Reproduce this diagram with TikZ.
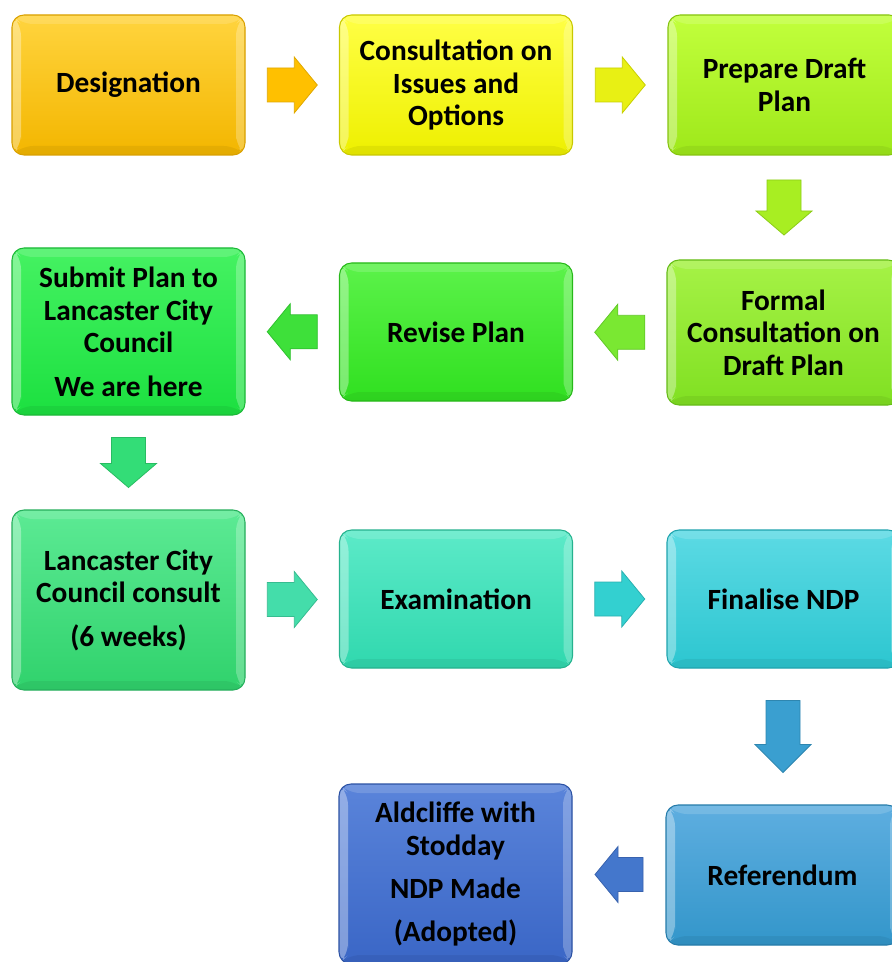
\documentclass[tikz,border=0pt]{standalone}
\usepackage{fontspec}
\setmainfont{Carlito}
\usetikzlibrary{calc}
\definecolor{desT}{HTML}{FFD43E}\definecolor{desB}{HTML}{F3B600}\definecolor{desD}{HTML}{D9A000}
\definecolor{conT}{HTML}{FFFF45}\definecolor{conB}{HTML}{EEF000}\definecolor{conD}{HTML}{C8C800}
\definecolor{preT}{HTML}{C2FF3C}\definecolor{preB}{HTML}{9EE81A}\definecolor{preD}{HTML}{86C410}
\definecolor{subT}{HTML}{45F262}\definecolor{subB}{HTML}{1CE040}\definecolor{subD}{HTML}{1CB838}
\definecolor{revT}{HTML}{5CF24A}\definecolor{revB}{HTML}{30E020}\definecolor{revD}{HTML}{28B81A}
\definecolor{frmT}{HTML}{A6F246}\definecolor{frmB}{HTML}{80E022}\definecolor{frmD}{HTML}{66BC18}
\definecolor{lccT}{HTML}{5CEA94}\definecolor{lccB}{HTML}{30D26C}\definecolor{lccD}{HTML}{26AE5C}
\definecolor{exaT}{HTML}{5CEAC8}\definecolor{exaB}{HTML}{30D8AE}\definecolor{exaD}{HTML}{26B28E}
\definecolor{finT}{HTML}{5CDAE4}\definecolor{finB}{HTML}{2CC6D0}\definecolor{finD}{HTML}{20A4AE}
\definecolor{refT}{HTML}{5EAEE0}\definecolor{refB}{HTML}{3396CA}\definecolor{refD}{HTML}{267CAA}
\definecolor{aldT}{HTML}{5A84DA}\definecolor{aldB}{HTML}{3A66C6}\definecolor{aldD}{HTML}{2C52A4}
\definecolor{a1F}{HTML}{FFC000}\definecolor{a1D}{HTML}{E0A800}
\definecolor{a2F}{HTML}{E8F014}\definecolor{a2D}{HTML}{C8D000}
\definecolor{a3F}{HTML}{A8EE22}\definecolor{a3D}{HTML}{8CCC18}
\definecolor{a4F}{HTML}{7AE832}\definecolor{a4D}{HTML}{62C828}
\definecolor{a5F}{HTML}{3EE03A}\definecolor{a5D}{HTML}{30C030}
\definecolor{a6F}{HTML}{33DD77}\definecolor{a6D}{HTML}{28BC62}
\definecolor{a7F}{HTML}{44DDAA}\definecolor{a7D}{HTML}{36BC90}
\definecolor{a8F}{HTML}{33D0D0}\definecolor{a8D}{HTML}{28B0B0}
\definecolor{a9F}{HTML}{3A9FD0}\definecolor{a9D}{HTML}{2E86B0}
\definecolor{a10F}{HTML}{4477CC}\definecolor{a10D}{HTML}{3862AE}
\tikzset{
  box/.style={rectangle, rounded corners=9pt, top color=#1T, bottom color=#1B, draw=#1D, line width=0.8pt,
    align=center, inner sep=2pt, font=\fontsize{22}{24.5}\selectfont\bfseries, text=black, minimum width=174.75pt,
    path picture={
      \fill[white,opacity=.35] (path picture bounding box.north west) -- ++(9,9) |- ($(path picture bounding box.south west)+(9,-9)$) -- (path picture bounding box.south west) -- cycle;
      \fill[white,opacity=.25] (path picture bounding box.north east) -- ++(-9,9) |- ($(path picture bounding box.south east)+(-9,-9)$) -- (path picture bounding box.south east) -- cycle;
      \fill[white,opacity=.15] (path picture bounding box.north west) -- (path picture bounding box.north east) -- ++(-9,9) -- ($(path picture bounding box.north west)+(9,9)$) -- cycle;
      \fill[black,opacity=.06] (path picture bounding box.south west) -- (path picture bounding box.south east) -- ++(-9,-9) -- ($(path picture bounding box.south west)+(9,-9)$) -- cycle;
    }},
  blk/.style={fill=#1F, draw=#1D, line width=0.6pt, line join=miter}
}
% #1 centre, #2 rotation, #3 length (px), #4 head length (px), #5 colour prefix
\newcommand\blockarrow[5]{%
  \path[blk=#5, shift={#1}, rotate=#2]
    (-#3/2,-17) -- (#3/2-#4,-17) -- (#3/2-#4,-28) -- (#3/2,0) -- (#3/2-#4,28) -- (#3/2-#4,17) -- (-#3/2,17) -- cycle;}
\begin{document}
\begin{tikzpicture}[x=0.75pt,y=-0.75pt]
\path[use as bounding box, fill=white] (0,0) rectangle (891,962);
% row 1
\node[box=des, minimum height=105pt] (des) at (128.5,85) {Designation};
\node[box=con, minimum height=105pt] (con) at (456,85) {Consultation on\\Issues and\\Options};
\node[box=pre, minimum height=105pt] (pre) at (784.5,85) {Prepare Draft\\Plan};
% row 2
\node[box=sub, minimum height=125.25pt] (sub) at (128.5,331.5) {Submit Plan to\\Lancaster City\\Council\\[8pt]We are here};
\node[box=rev, minimum height=103.5pt] (rev) at (456,332) {Revise Plan};
\node[box=frm, minimum height=108.75pt] (frm) at (783.5,332.5) {Formal\\Consultation on\\Draft Plan};
% row 3
\node[box=lcc, minimum height=135pt] (lcc) at (128.5,600) {Lancaster City\\Council consult\\[8pt](6 weeks)};
\node[box=exa, minimum height=103.5pt] (exa) at (456,599) {Examination};
\node[box=fin, minimum height=103.5pt] (fin) at (783.5,599) {Finalise NDP};
% row 4
\node[box=ref, minimum height=105pt] (ref) at (782.5,875) {Referendum};
\node[box=ald, minimum height=135pt] (ald) at (455.5,874) {Aldcliffe with\\Stodday\\[8pt]NDP Made\\[8pt](Adopted)};
% block arrows between boxes
\blockarrow{($(des.east)!0.5!(con.west)$)}{0}{50}{23}{a1}
\blockarrow{($(con.east)!0.5!(pre.west)$)}{0}{50}{23}{a2}
\blockarrow{($(pre.south)!0.5!(frm.north)$)}{-90}{55}{24}{a3}
\blockarrow{($(frm.west)!0.5!(rev.east)$)}{180}{50}{23}{a4}
\blockarrow{($(rev.west)!0.5!(sub.east)$)}{180}{50}{23}{a5}
\blockarrow{($(sub.south)!0.5!(lcc.north)$)}{-90}{50}{24}{a6}
\blockarrow{($(lcc.east)!0.5!(exa.west)$)}{0}{50}{23}{a7}
\blockarrow{($(exa.east)!0.5!(fin.west)$)}{0}{50}{23}{a8}
\blockarrow{($(fin.south)!0.5!(ref.north)$)}{-90}{72}{28}{a9}
\blockarrow{($(ref.west)!0.5!(ald.east)$)}{180}{48}{23}{a10}
\end{tikzpicture}
\end{document}
